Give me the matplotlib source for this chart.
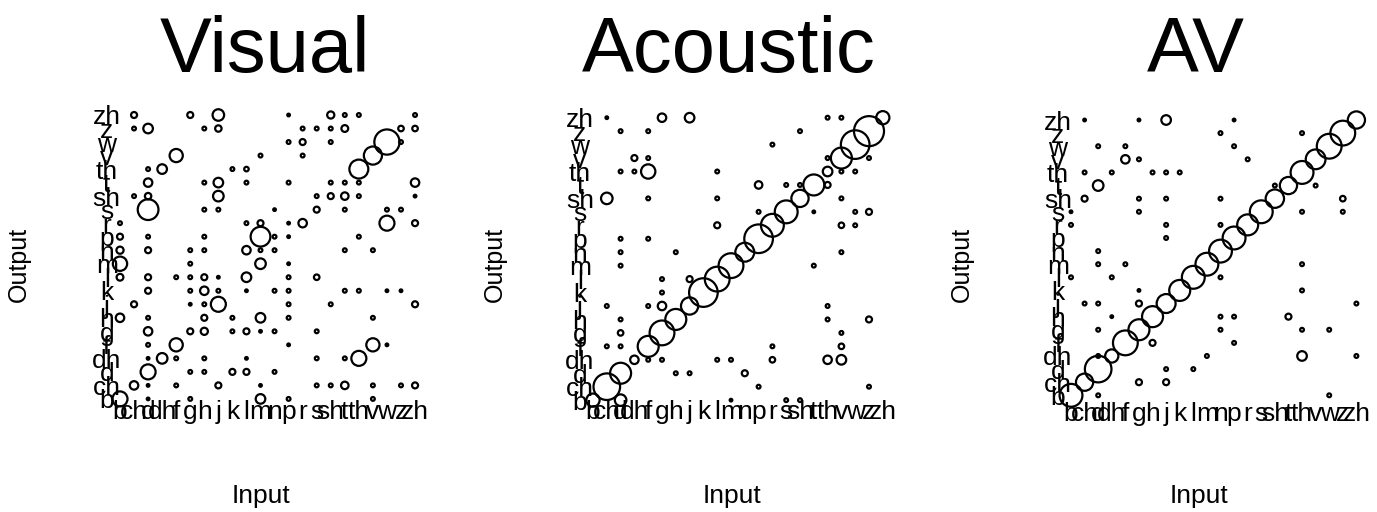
import numpy as np
import matplotlib
matplotlib.use('Agg')
import matplotlib.pyplot as plt

plt.rcParams['font.family'] = ['Liberation Sans', 'DejaVu Sans']

# consonant labels, input on x, response (output) on y
phones = ['b', 'ch', 'd', 'dh', 'f', 'g', 'h', 'j', 'k', 'l', 'm',
          'n', 'p', 'r', 's', 'sh', 't', 'th', 'v', 'w', 'z', 'zh']

# (input, output, percent of responses)
visual = [
    ('ch', 'zh', 3.5), ('g', 'zh', 3.5), ('j', 'zh', 13), ('p', 'zh', 0.7), ('sh', 'zh', 5), ('t', 'zh', 1.4), ('th', 'zh', 1.4), ('zh', 'zh', 1.4),
    ('ch', 'z', 1.4), ('d', 'z', 9), ('h', 'z', 1.4), ('j', 'z', 4), ('r', 'z', 1.4), ('s', 'z', 1.4), ('sh', 'z', 1.4), ('t', 'z', 4.5), ('z', 'z', 3), ('zh', 'z', 3),
    ('p', 'w', 1.4), ('r', 'w', 3.5), ('sh', 'w', 1.4), ('w', 'w', 62), ('z', 'w', 1.4),
    ('f', 'v', 17), ('m', 'v', 1.4), ('r', 'v', 1.4), ('v', 'v', 32),
    ('d', 'th', 1.4), ('dh', 'th', 9), ('k', 'th', 1.4), ('l', 'th', 2), ('th', 'th', 35),
    ('d', 't', 7), ('h', 't', 1.4), ('j', 't', 9), ('l', 't', 1.4), ('p', 't', 1.4), ('sh', 't', 1.4), ('t', 't', 1.4), ('th', 't', 1.4), ('zh', 't', 7),
    ('ch', 'sh', 1.4), ('d', 'sh', 4), ('j', 'sh', 11), ('s', 'sh', 1.4), ('sh', 'sh', 3.5), ('t', 'sh', 5.5), ('th', 'sh', 1.4), ('zh', 'sh', 0.7),
    ('d', 's', 42), ('h', 's', 1.4), ('j', 's', 1.4), ('n', 's', 0.7), ('s', 's', 3.5), ('t', 's', 1.4), ('w', 's', 1.4), ('z', 's', 1.4),
    ('b', 'r', 1.4), ('l', 'r', 1.4), ('m', 'r', 3.5), ('p', 'r', 0.7), ('r', 'r', 7), ('w', 'r', 22), ('zh', 'r', 3.5),
    ('b', 'p', 3.5), ('d', 'p', 1.4), ('h', 'p', 1.4), ('m', 'p', 38), ('n', 'p', 1.4), ('p', 'p', 0.7), ('th', 'p', 1.4),
    ('b', 'n', 5), ('d', 'n', 3.5), ('g', 'n', 1.4), ('h', 'n', 1.4), ('l', 'n', 7), ('m', 'n', 1.4), ('n', 'n', 1.4), ('t', 'n', 1.4), ('v', 'n', 1.4),
    ('b', 'm', 20), ('g', 'm', 1.4), ('m', 'm', 11), ('p', 'm', 0.7),
    ('b', 'l', 4.5), ('d', 'l', 3.5), ('f', 'l', 1.4), ('g', 'l', 1.4), ('h', 'l', 3.5), ('j', 'l', 0.7), ('l', 'l', 9), ('p', 'l', 1.4), ('s', 'l', 3),
    ('d', 'k', 3.5), ('g', 'k', 1.4), ('h', 'k', 7), ('j', 'k', 1.4), ('l', 'k', 0.7), ('n', 'k', 1.4), ('p', 'k', 1.4), ('t', 'k', 1.4), ('th', 'k', 1.4), ('w', 'k', 0.7), ('z', 'k', 0.7),
    ('ch', 'j', 3.5), ('g', 'j', 0.7), ('h', 'j', 1.4), ('j', 'j', 22), ('p', 'j', 1.4), ('sh', 'j', 1.4), ('zh', 'j', 3.5),
    ('b', 'h', 7), ('d', 'h', 1.4), ('h', 'h', 3.5), ('k', 'h', 1.4), ('m', 'h', 9), ('p', 'h', 1.4), ('v', 'h', 1.4),
    ('d', 'g', 7), ('g', 'g', 3.5), ('h', 'g', 5), ('k', 'g', 1.4), ('l', 'g', 3.5), ('m', 'g', 0.7), ('n', 'g', 1.4), ('s', 'g', 1.4),
    ('d', 'f', 1.4), ('f', 'f', 17), ('p', 'f', 0.7), ('v', 'f', 17), ('w', 'f', 0.7),
    ('d', 'dh', 0.7), ('dh', 'dh', 11), ('f', 'dh', 1.4), ('h', 'dh', 1.4), ('l', 'dh', 0.7), ('s', 'dh', 1.4), ('t', 'dh', 1.4), ('th', 'dh', 22),
    ('d', 'd', 22), ('g', 'd', 1.4), ('h', 'd', 1.4), ('k', 'd', 3.5), ('l', 'd', 3.5), ('n', 'd', 1.4),
    ('ch', 'ch', 7), ('d', 'ch', 0.7), ('f', 'ch', 1.4), ('j', 'ch', 3.5), ('m', 'ch', 0.7), ('s', 'ch', 1.4), ('sh', 'ch', 1.4), ('t', 'ch', 5.5), ('v', 'ch', 1.4), ('z', 'ch', 1.4), ('zh', 'ch', 3.5),
    ('b', 'b', 22), ('d', 'b', 0.7), ('g', 'b', 1.4), ('m', 'b', 9), ('p', 'b', 1.4), ('v', 'b', 1.4),
]

acoustic = [
    ('ch', 'zh', 0.7), ('g', 'zh', 7), ('j', 'zh', 9), ('th', 'zh', 1.4), ('v', 'zh', 1.4), ('zh', 'zh', 17),
    ('d', 'z', 1.4), ('f', 'z', 1.4), ('sh', 'z', 1.4), ('z', 'z', 88),
    ('r', 'w', 1.4), ('w', 'w', 80),
    ('dh', 'v', 3.5), ('f', 'v', 1.4), ('th', 'v', 1.4), ('v', 'v', 43), ('z', 'v', 1.4),
    ('d', 'th', 1.4), ('dh', 'th', 1.4), ('f', 'th', 20), ('l', 'th', 1.4), ('th', 'th', 9), ('v', 'th', 1.4), ('w', 'th', 1.4),
    ('p', 't', 5.5), ('s', 't', 1.4), ('sh', 't', 1.4), ('t', 't', 43), ('th', 't', 3.5),
    ('ch', 'sh', 13), ('f', 'sh', 1.4), ('l', 'sh', 1.4), ('sh', 'sh', 29), ('v', 'sh', 1.4),
    ('p', 's', 1.4), ('s', 's', 51), ('t', 's', 0.7), ('w', 's', 1.4), ('z', 's', 3.5),
    ('l', 'r', 3.5), ('r', 'r', 51), ('v', 'r', 3), ('w', 'r', 1.4),
    ('d', 'p', 1.4), ('f', 'p', 1.4), ('p', 'p', 80),
    ('d', 'n', 1.4), ('h', 'n', 1.4), ('n', 'n', 35), ('v', 'n', 1.4),
    ('d', 'm', 1.4), ('m', 'm', 60), ('t', 'm', 1.4),
    ('g', 'l', 1.4), ('j', 'l', 3.5), ('l', 'l', 60),
    ('g', 'k', 1.4), ('k', 'k', 80),
    ('ch', 'j', 1.4), ('f', 'j', 1.4), ('g', 'j', 7), ('j', 'j', 29), ('th', 'j', 1.4),
    ('d', 'h', 1.4), ('h', 'h', 43), ('th', 'h', 1.4), ('z', 'h', 3.5),
    ('d', 'g', 3), ('g', 'g', 60), ('v', 'g', 1.4),
    ('ch', 'f', 1.4), ('d', 'f', 1.4), ('f', 'f', 43), ('r', 'f', 1.4), ('v', 'f', 3),
    ('dh', 'dh', 7), ('f', 'dh', 1.4), ('g', 'dh', 1.4), ('l', 'dh', 1.4), ('m', 'dh', 1.4), ('r', 'dh', 3), ('th', 'dh', 7), ('v', 'dh', 9),
    ('d', 'd', 43), ('h', 'd', 1.4), ('j', 'd', 1.4), ('n', 'd', 3.5),
    ('ch', 'ch', 69), ('p', 'ch', 1.4), ('z', 'ch', 1.4),
    ('b', 'b', 17), ('d', 'b', 13), ('m', 'b', 0.7), ('s', 'b', 1.4), ('sh', 'b', 1.4),
]

av = [
    ('ch', 'zh', 0.7), ('g', 'zh', 0.7), ('j', 'zh', 9), ('p', 'zh', 0.7), ('zh', 'zh', 29),
    ('n', 'z', 1.4), ('th', 'z', 1.4), ('z', 'z', 60),
    ('d', 'w', 1.4), ('f', 'w', 1.4), ('p', 'w', 1.4), ('w', 'w', 60),
    ('f', 'v', 7), ('g', 'v', 1.4), ('r', 'v', 1.4), ('v', 'v', 38),
    ('ch', 'th', 1.4), ('dh', 'th', 1.4), ('h', 'th', 1.4), ('j', 'th', 1.4), ('k', 'th', 1.4), ('th', 'th', 51),
    ('d', 't', 11), ('sh', 't', 1.4), ('t', 't', 29), ('v', 't', 1.4),
    ('ch', 'sh', 3.5), ('g', 'sh', 1.4), ('j', 'sh', 1.4), ('n', 'sh', 1.4), ('sh', 'sh', 33), ('z', 'sh', 3),
    ('b', 's', 0.7), ('g', 's', 1.4), ('s', 's', 51), ('th', 's', 1.4), ('z', 's', 1.4),
    ('b', 'r', 1.4), ('j', 'r', 1.4), ('n', 'r', 1.4), ('r', 'r', 43),
    ('j', 'p', 1.4), ('p', 'p', 51),
    ('d', 'n', 1.4), ('n', 'n', 51),
    ('d', 'm', 1.4), ('f', 'm', 1.4), ('m', 'm', 51), ('th', 'm', 1.4),
    ('b', 'l', 1.4), ('dh', 'l', 1.4), ('n', 'l', 1.4), ('l', 'l', 51),
    ('g', 'k', 0.7), ('k', 'k', 43), ('th', 'k', 1.4),
    ('ch', 'j', 1.4), ('d', 'j', 1.4), ('g', 'j', 3.5), ('j', 'j', 35), ('zh', 'j', 1.4),
    ('dh', 'h', 0.7), ('h', 'h', 43), ('n', 'h', 1.4), ('p', 'h', 1.4), ('t', 'h', 3.5),
    ('d', 'g', 1.4), ('g', 'g', 43), ('n', 'g', 1.4), ('th', 'g', 1.4), ('w', 'g', 1.4),
    ('h', 'f', 3.5), ('f', 'f', 60), ('p', 'f', 1.4),
    ('d', 'dh', 1.4), ('dh', 'dh', 17), ('m', 'dh', 1.4), ('th', 'dh', 9), ('zh', 'dh', 1.4),
    ('d', 'd', 69), ('j', 'd', 1.4), ('l', 'd', 1.4),
    ('ch', 'ch', 29), ('g', 'ch', 3.5), ('j', 'ch', 3.5),
    ('b', 'b', 51), ('d', 'b', 1.4), ('w', 'b', 1.4),
]

titles = ['Visual', 'Acoustic', 'AV']
panels = [visual, acoustic, av]

W, H, DPI = 1377, 512, 100
# pixel geometry of each grid: first column x, column step, top row y, row step
grids = [(120, 14.05, 115, 13.52),
         (593, 13.8, 117.7, 13.45),
         (1071, 13.59, 120, 13.11)]
title_x = [265, 729, 1196]
out_x = [19, 495, 962]
in_x = [261, 732, 1199]
xpads = [-4.3, -4.6, 0.3]

fig = plt.figure(figsize=(W / DPI, H / DPI), dpi=DPI)
n = len(phones)
idx = {p: i for i, p in enumerate(phones)}

for k, (data, title) in enumerate(zip(panels, titles)):
    x0, dx, y0, dy = grids[k]
    left = x0 - 0.5 * dx
    top = y0 - 0.5 * dy
    ax = fig.add_axes([left / W, 1 - (top + n * dy) / H, n * dx / W, n * dy / H])
    ax.set_xlim(-0.5, n - 0.5)
    ax.set_ylim(-0.5, n - 0.5)

    xs = np.array([idx[a] for a, b, v in data])
    ys = np.array([idx[b] for a, b, v in data])
    vals = np.array([v for a, b, v in data])
    diam_px = np.maximum(3.2 * np.sqrt(vals), 2.6)
    ax.scatter(xs, ys, s=(diam_px * 72 / DPI) ** 2, facecolors='none',
               edgecolors='black', linewidths=1.6, clip_on=False)

    ax.set_xticks(range(n))
    ax.set_xticklabels(phones, fontsize=19)
    ax.set_yticks(range(n))
    ax.set_yticklabels(phones, fontsize=19)
    plt.setp(ax.get_yticklabels(), ha='center')
    ax.tick_params(axis='both', length=0)
    ax.tick_params(axis='x', pad=xpads[k])
    ax.tick_params(axis='y', pad=4.5)
    for sp in ax.spines.values():
        sp.set_visible(False)
    ax.patch.set_alpha(0)

    fig.text(title_x[k] / W, 1 - 72 / H, title, fontsize=56,
             ha='center', va='baseline')
    fig.text(out_x[k] / W, 1 - 264 / H, 'Output', fontsize=18,
             rotation=90, ha='center', va='center')
    fig.text(in_x[k] / W, 1 - 503 / H, 'Input', fontsize=19,
             ha='center', va='baseline')

fig.savefig('out.png', dpi=DPI)
